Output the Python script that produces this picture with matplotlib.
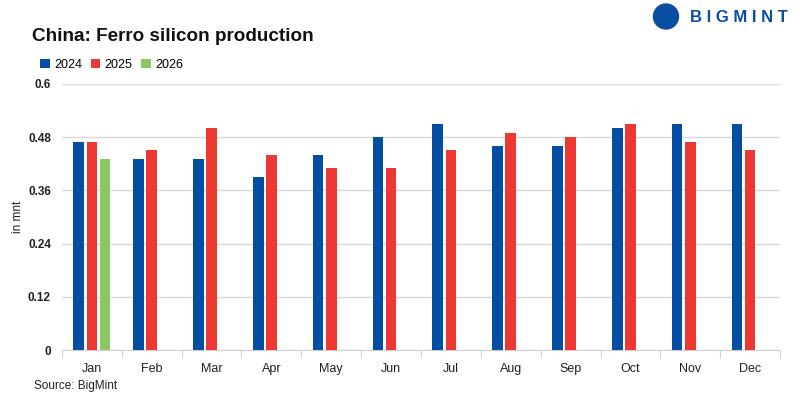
import matplotlib.pyplot as plt
import numpy as np
from matplotlib.patches import Ellipse

plt.rcParams['font.family'] = ['Liberation Sans', 'DejaVu Sans']

# Dane (mln ton)
months = ['Jan', 'Feb', 'Mar', 'Apr', 'May', 'Jun', 'Jul', 'Aug', 'Sep', 'Oct', 'Nov', 'Dec']
prod_2024 = [0.47, 0.43, 0.43, 0.39, 0.44, 0.48, 0.51, 0.46, 0.46, 0.50, 0.51, 0.51]
prod_2025 = [0.47, 0.45, 0.50, 0.44, 0.41, 0.41, 0.45, 0.49, 0.48, 0.51, 0.47, 0.45]
prod_2026 = [0.43] + [np.nan] * 11
years = ['2024', '2025', '2026']
y_ticks = [0, 0.12, 0.24, 0.36, 0.48, 0.6]

colors = ['#034ea2', '#ee3834', '#8bc664']
x = np.arange(len(months))
w = 0.18
step = 0.22

fig = plt.figure(figsize=(8, 3.99), dpi=100)
ax = fig.add_axes([0.0775, 0.1228, 0.8975, 0.6667])

for i, (vals, c, lab) in enumerate(zip([prod_2024, prod_2025, prod_2026], colors, years)):
    ax.bar(x + (i - 1) * step, vals, width=w, color=c, label=lab, zorder=3)

ax.set_xlim(-0.5, len(months) - 0.5)
ax.set_ylim(0, 0.6)
ax.set_yticks(y_ticks)
ax.set_yticklabels(['0', '0.12', '0.24', '0.36', '0.48', '0.6'], fontweight='bold', fontsize=8.5, color='#222222')
ax.yaxis.grid(True, color='#d9d9d9', linewidth=1, zorder=0)
ax.tick_params(axis='y', length=0, pad=8)

# podzialki na granicach kategorii, etykiety w srodku
ax.set_xticks(np.arange(-0.5, len(months), 1))
ax.set_xticklabels([])
ax.tick_params(axis='x', which='major', length=6, color='#d0d0d0')
ax.set_xticks(x, minor=True)
ax.set_xticklabels(months, minor=True, fontsize=9, color='#222222')
ax.tick_params(axis='x', which='minor', length=0, pad=9)

for s in ['top', 'right', 'left']:
    ax.spines[s].set_visible(False)
ax.spines['bottom'].set_color('#d0d0d0')

ax.set_ylabel('in mnt', fontsize=8.5, color='#222222', labelpad=3)

fig.text(0.04, 0.897, 'China: Ferro silicon production', fontsize=13.6, fontweight='bold', color='#111111')
fig.text(0.042, 0.025, 'Source: BigMint', fontsize=8.5, color='#222222')

ax.legend(loc='lower left', bbox_to_anchor=(-0.037, 1.03), ncol=3, frameon=False, fontsize=9,
          handlelength=0.75, handleheight=0.75, handletextpad=0.35, columnspacing=0.7, borderaxespad=0)

# logo
fig.patches.append(Ellipse((666 / 800, 1 - 16.5 / 399), 25 / 800, 25 / 399, transform=fig.transFigure,
                           color='#0a4ea2'))
fig.text(0.862, 1 - 17 / 399, 'B I G M I N T', fontsize=12, fontweight='bold', color='#0a4ea2', va='center')

fig.savefig('out.png', dpi=100)
